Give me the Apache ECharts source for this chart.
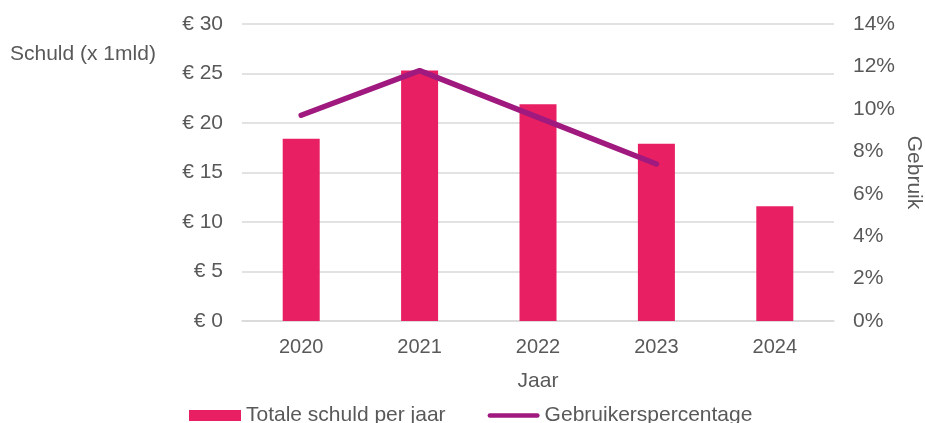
<!DOCTYPE html>
<html>
<head>
<meta charset="utf-8">
<script src="https://cdn.jsdelivr.net/npm/echarts@6/dist/echarts.min.js"></script>
<style>
  html, body { margin: 0; padding: 0; background: #fff; }
  #chart { width: 925px; height: 423px; }
</style>
</head>
<body>
<div id="chart"></div>
<script>
const years = ['2020', '2021', '2022', '2023', '2024']
// totale schuld per jaar (x 1 mld euro)
const schuld = [18.4, 25.3, 21.9, 17.9, 11.6]
// gebruikerspercentage (%)
const gebruik = [9.7, 11.8, 9.6, 7.4]

const textColor = '#595959'
const font = 'Liberation Sans, Arial, sans-serif'

const chart = echarts.init(document.getElementById('chart'))

chart.setOption({
	animation: false,
	textStyle: { fontFamily: font, color: textColor },
	grid: { left: 242, right: 91, top: 24, bottom: 102, outerBoundsMode: 'none' },
	// linker as titel, horizontaal
	graphic: [{
		type: 'text',
		left: 10,
		top: 44,
		style: { text: 'Schuld (x 1mld)', fontSize: 21, fill: textColor, fontFamily: font }
	}],
	legend: {
		top: 405,
		left: 189,
		padding: 0,
		itemWidth: 52,
		itemHeight: 11,
		itemGap: 42,
		textStyle: { fontSize: 21, color: textColor, fontFamily: font },
		data: [
			{ name: 'Totale schuld per jaar', icon: 'rect' },
			{ name: 'Gebruikerspercentage', icon: 'path://M2.5,0 L54.5,0 A2.5,2.5 0 0 1 54.5,5 L2.5,5 A2.5,2.5 0 0 1 2.5,0 Z' }
		]
	},
	xAxis: {
		type: 'category',
		data: years,
		name: 'Jaar',
		nameLocation: 'middle',
		nameGap: 50,
		nameTextStyle: { fontSize: 21, color: textColor },
		axisLine: { lineStyle: { color: '#d9d9d9', width: 1.5 } },
		axisTick: { show: false },
		axisLabel: { fontSize: 20, color: textColor, margin: 16 }
	},
	yAxis: [
		{
			type: 'value',
			min: 0,
			max: 30,
			interval: 5,
			axisLine: { show: false },
			axisTick: { show: false },
			axisLabel: { fontSize: 21, color: textColor, margin: 19, formatter: '€ {value}' },
			splitLine: { lineStyle: { color: '#d9d9d9', width: 1.5 } }
		},
		{
			type: 'value',
			min: 0,
			max: 14,
			interval: 2,
			position: 'right',
			name: 'Gebruik',
			nameLocation: 'middle',
			nameRotate: -90,
			nameGap: 69,
			nameMoveOverlap: false,
			nameTextStyle: { fontSize: 21, color: textColor },
			axisLine: { show: false },
			axisTick: { show: false },
			axisLabel: { fontSize: 21, color: textColor, margin: 19, formatter: '{value}%' },
			splitLine: { show: false }
		}
	],
	series: [
		{
			name: 'Totale schuld per jaar',
			type: 'bar',
			data: schuld,
			barWidth: 37,
			itemStyle: { color: '#E81F63' }
		},
		{
			name: 'Gebruikerspercentage',
			type: 'line',
			yAxisIndex: 1,
			data: gebruik,
			symbol: 'none',
			lineStyle: { color: '#A0197E', width: 5.5, cap: 'round', join: 'round' },
			itemStyle: { color: '#A0197E' }
		}
	]
})
</script>
</body>
</html>
